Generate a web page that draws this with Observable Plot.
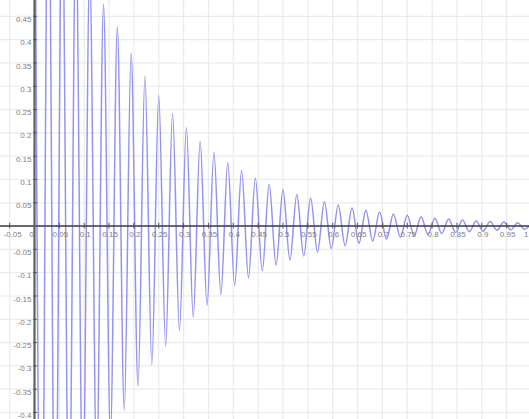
<!DOCTYPE html>
<html>
<head>
<meta charset="utf-8">
<script src="https://cdn.jsdelivr.net/npm/d3@7"></script>
<script src="https://cdn.jsdelivr.net/npm/@observablehq/plot@0.6"></script>
<style>
  html, body { margin: 0; padding: 0; background: #fff; }
  #chart svg { display: block; }
</style>
</head>
<body>
<div id="chart"></div>
<script>
// Extrema (alternating peaks / troughs) of the damped oscillation
const extremaX = [
  0, 0.0139, 0.0278, 0.0417, 0.0556, 0.0694, 0.0833, 0.0972, 0.1111, 0.125,
  0.1389, 0.1528, 0.1667, 0.1806, 0.1944, 0.2083, 0.2222, 0.2361, 0.25, 0.2639,
  0.2778, 0.2917, 0.3056, 0.3194, 0.3333, 0.3472, 0.3611, 0.375, 0.3889, 0.4028,
  0.4167, 0.4306, 0.4444, 0.4583, 0.4722, 0.4861, 0.5, 0.5139, 0.5278, 0.5417,
  0.5556, 0.5694, 0.5833, 0.5972, 0.6111, 0.625, 0.6389, 0.6528, 0.6667, 0.6806,
  0.6944, 0.7083, 0.7222, 0.7361, 0.75, 0.7639, 0.7778, 0.7917, 0.8056, 0.8194,
  0.8333, 0.8472, 0.8611, 0.875, 0.8889, 0.9028, 0.9167, 0.9306, 0.9444, 0.9583,
  0.9722, 0.9861, 1.0
];
const extremaY = [
  0.960, -0.896, 0.835, -0.779, 0.727, -0.678, 0.633, -0.590, 0.551, -0.514,
  0.476, -0.447, 0.427, -0.395, 0.372, -0.343, 0.322, -0.297, 0.280, -0.258,
  0.242, -0.224, 0.211, -0.195, 0.182, -0.170, 0.158, -0.147, 0.136, -0.128,
  0.120, -0.111, 0.103, -0.096, 0.090, -0.084, 0.078, -0.073, 0.068, -0.064,
  0.060, -0.056, 0.052, -0.048, 0.045, -0.042, 0.039, -0.037, 0.034, -0.032,
  0.030, -0.028, 0.026, -0.024, 0.023, -0.021, 0.020, -0.018, 0.017, -0.016,
  0.015, -0.014, 0.013, -0.012, 0.011, -0.011, 0.010, -0.009, 0.009, -0.008,
  0.007, -0.007, 0.0065
];

// Tick values and labels
const xTicks = [-0.05, 0, 0.05, 0.1, 0.15, 0.2, 0.25, 0.3, 0.35, 0.4, 0.45, 0.5,
  0.55, 0.6, 0.65, 0.7, 0.75, 0.8, 0.85, 0.9, 0.95, 1];
const xTickLabels = ["-0.05", "0", "0.05", "0.1", "0.15", "0.2", "0.25", "0.3", "0.35", "0.4", "0.45", "0.5",
  "0.55", "0.6", "0.65", "0.7", "0.75", "0.8", "0.85", "0.9", "0.95", "1"];
const yTicks = [-0.4, -0.35, -0.3, -0.25, -0.2, -0.15, -0.1, -0.05,
  0.05, 0.1, 0.15, 0.2, 0.25, 0.3, 0.35, 0.4, 0.45];
const yTickLabels = ["-0.4", "-0.35", "-0.3", "-0.25", "-0.2", "-0.15", "-0.1", "-0.05",
  "0.05", "0.1", "0.15", "0.2", "0.25", "0.3", "0.35", "0.4", "0.45"];
const gridX = [-0.05, 0, 0.05, 0.1, 0.15, 0.2, 0.25, 0.3, 0.35, 0.4, 0.45, 0.5,
  0.55, 0.6, 0.65, 0.7, 0.75, 0.8, 0.85, 0.9, 0.95];
const gridY = [-0.4, -0.35, -0.3, -0.25, -0.2, -0.15, -0.1, -0.05, 0,
  0.05, 0.1, 0.15, 0.2, 0.25, 0.3, 0.35, 0.4, 0.45];

const curveData = extremaX.map((x, i) => ({x, y: extremaY[i]}));
const xLab = xTicks.map((v, i) => ({v, t: xTickLabels[i]}));
const yLab = yTicks.map((v, i) => ({v, t: yTickLabels[i]}));

const font = "'Liberation Sans', Arial, sans-serif";
const labelStyle = {fill: "#808080", fontSize: 8, fontFamily: font};

const chart = Plot.plot({
  width: 529,
  height: 419,
  margin: 0,
  style: {background: "#fff", fontFamily: font, overflow: "hidden"},
  x: {domain: [-0.0684, 0.996], axis: null},
  y: {domain: [-0.415, 0.484], axis: null},
  marks: [
    Plot.ruleX(gridX, {stroke: "#ebebeb", strokeWidth: 1.2}),
    Plot.ruleY(gridY, {stroke: "#ebebeb", strokeWidth: 1.2}),
    Plot.line(curveData, {x: "x", y: "y", curve: "monotone-x", stroke: "#9494f0", strokeWidth: 1.5, clip: true}),
    Plot.ruleY([0], {stroke: "#3a3a4a", strokeWidth: 1.5}),
    Plot.ruleX([0], {stroke: "#606060", strokeWidth: 2.2}),
    Plot.ruleX(xTicks.filter(d => d !== 0), {y1: -0.006, y2: 0.006, stroke: "#555", strokeWidth: 1}),
    Plot.ruleY(yTicks, {x1: -0.002, x2: 0.006, stroke: "#555", strokeWidth: 1}),
    Plot.text(xLab.filter(d => d.v !== 0 && d.v !== -0.05 && d.v !== 1), {x: "v", y: 0, text: "t", dy: 8, dx: 1, ...labelStyle}),
    Plot.text(xLab.filter(d => d.v === -0.05), {x: "v", y: 0, text: "t", dy: 8, dx: 3, ...labelStyle}),
    Plot.text(xLab.filter(d => d.v === 0), {x: "v", y: 0, text: "t", dy: 8, dx: -3, ...labelStyle}),
    Plot.text(xLab.filter(d => d.v === 1), {x: "v", y: 0, text: "t", dy: 8, dx: -3, textAnchor: "end", ...labelStyle}),
    Plot.text(yLab, {x: 0, y: "v", text: "t", dx: -3, dy: 3, textAnchor: "end", ...labelStyle})
  ]
});
document.getElementById("chart").appendChild(chart);
</script>
</body>
</html>
